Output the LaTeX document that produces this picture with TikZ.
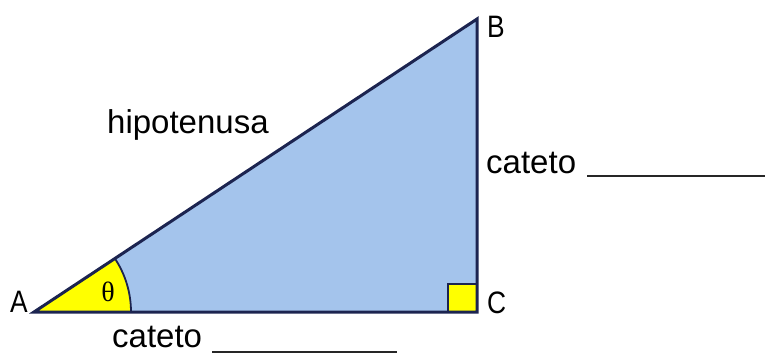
\documentclass[tikz,border=0pt]{standalone}
\usepackage{fontspec}
\setmainfont{Liberation Sans}
\newfontfamily\grserif{Liberation Serif}
\newcommand{\narrowtxt}[1]{\scalebox{0.85}[1]{#1}}
\begin{document}
\begin{tikzpicture}[x=1pt,y=-1pt,
  edge/.style={draw=navy,line width=3pt,line join=miter},
  lbl/.style={font=\fontsize{33}{38}\selectfont,inner sep=0pt,anchor=base west},
  vlabel/.style={font=\fontsize{31}{34}\selectfont,inner sep=0pt,anchor=base west},
  blank/.style={draw=black!85,line width=2pt}]
\definecolor{navy}{RGB}{28,36,80}
\definecolor{trifill}{RGB}{164,196,236}
\definecolor{yel}{RGB}{255,255,0}
\useasboundingbox (0,0) rectangle (765,354);
\coordinate (A) at (34,312);
\coordinate (B) at (477,19);
\coordinate (C) at (477,312);
% fill
\fill[trifill] (A) -- (B) -- (C) -- cycle;
% angle sector
\filldraw[fill=yel,draw=navy,line width=1.8pt] (A) -- ++(97,0) arc[start angle=0,end angle=-33.48,radius=97] -- cycle;
% right angle square
\filldraw[fill=yel,draw=navy,line width=1.8pt] (448,284) rectangle (C);
% outline
\draw[edge] (A) -- (B) -- (C) -- cycle;
% labels
\node[vlabel] (lA) at (10,312) {\narrowtxt{A}};
\node[vlabel] (lB) at (487,37) {\narrowtxt{B}};
\node[vlabel] (lC) at (487,313) {\narrowtxt{C}};
\node[font=\grserif\fontsize{28}{30}\selectfont,inner sep=0pt] (th) at (108,292) {θ};
\node[lbl] (hyp) at (107,133) {hipotenusa};
\node[lbl] (cr) at (486,173) {cateto};
\node[lbl] (cb) at (112,347) {cateto};
\coordinate (u1a) at (587,176);
\coordinate (u1b) at (765,176);
\coordinate (u2a) at (212,352);
\coordinate (u2b) at (397,352);
\draw[blank] (u1a) -- (u1b);
\draw[blank] (u2a) -- (u2b);
\end{tikzpicture}
\end{document}
